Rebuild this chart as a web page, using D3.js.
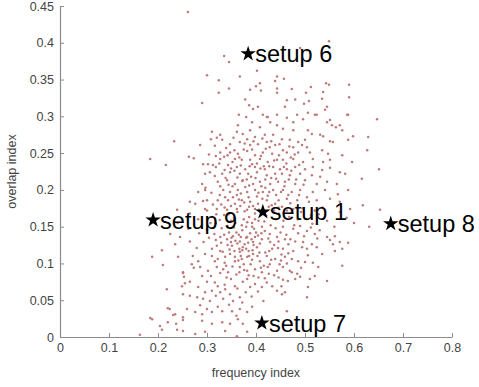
<!DOCTYPE html>
<html><head><meta charset="utf-8">
<script src="https://cdn.jsdelivr.net/npm/d3@7"></script>
<style>
html,body{margin:0;padding:0;background:#fff;}
svg{display:block;font-family:"Liberation Sans",Arial,sans-serif;}
</style></head>
<body><svg id="chart" width="479" height="387"></svg>
<script>
// ---- data (frequency index, overlap index) ----
const scatterPoints = [
[.261,.442],[.335,.382],[.345,.374],[.300,.356],[.324,.349],[.367,.354],[.402,.362],[.324,.332],[.345,.338],[.290,.318],
[.378,.323],[.388,.336],[.400,.341],[.408,.345],[.410,.335],[.443,.354],[.439,.348],[.443,.338],[.443,.332],[.386,.315],
[.394,.310],[.404,.313],
[.549,.402],[.490,.393],[.504,.390],[.457,.351],[.473,.337],[.512,.340],[.502,.332],[.543,.345],[.549,.343],[.537,.333],
[.590,.343],[.590,.326],[.463,.322],[.480,.323],[.498,.317],[.508,.321],[.535,.324],[.459,.313],[.545,.313],[.541,.309],
[.422,.299],[.443,.302],[.463,.298],[.484,.302],[.506,.305],[.524,.302],[.551,.295],[.571,.288],[.586,.302],
[.365,.302],[.380,.299],[.414,.302],[.424,.299],[.363,.288],[.392,.292],[.408,.285],[.429,.292],[.443,.288],[.310,.279],
[.327,.275],[.320,.271],[.308,.269],[.361,.279],[.373,.276],[.388,.281],[.382,.269],[.398,.272],[.418,.275],[.435,.275],
[.233,.266],[.286,.261],[.347,.262],[.367,.265],[.388,.261],[.404,.262],[.422,.265],[.439,.261],[.327,.251],[.347,.251],
[.363,.249],[.382,.253],[.398,.247],[.414,.251],[.433,.249],[.184,.242],[.263,.245],[.273,.243],[.327,.242],[.357,.242],
[.371,.241],[.388,.241],[.408,.242],[.424,.238],[.443,.241],[.216,.234],[.292,.235],[.302,.235],[.312,.234],[.343,.234],
[.361,.231],[.378,.228],[.398,.231],[.418,.228],[.435,.231],[.296,.222],[.306,.224],[.331,.222],[.347,.224],[.367,.222],
[.384,.222],[.402,.224],[.422,.220],[.439,.222],[.290,.208],[.322,.211],[.341,.213],[.357,.208],[.373,.213],[.394,.208],
[.408,.211],[.429,.208],[.445,.211],[.282,.197],[.296,.200],[.333,.200],[.347,.197],[.363,.200],[.382,.197],[.398,.200],
[.414,.197],[.435,.200],[.265,.184],[.276,.181],[.300,.186],[.322,.186],[.343,.186],[.357,.181],[.371,.186],[.388,.184],
[.404,.181],[.422,.186],[.439,.181],[.239,.173],[.296,.174],[.320,.174],[.341,.173],[.361,.174],[.382,.173],[.398,.174],
[.520,.302],[.588,.302],[.647,.296],[.476,.292],[.496,.296],[.545,.292],[.555,.288],[.576,.281],[.563,.285],[.455,.283],
[.476,.281],[.506,.281],[.514,.276],[.531,.275],[.537,.273],[.598,.273],[.629,.272],[.453,.269],[.469,.268],[.486,.265],
[.500,.268],[.494,.261],[.504,.258],[.476,.258],[.551,.266],[.557,.265],[.588,.268],[.463,.251],[.486,.251],[.510,.251],
[.535,.254],[.547,.249],[.576,.247],[.627,.254],[.455,.241],[.476,.242],[.496,.238],[.516,.242],[.537,.238],[.551,.241],
[.596,.238],[.463,.228],[.480,.231],[.500,.228],[.516,.231],[.535,.227],[.551,.230],[.571,.224],[.651,.228],[.453,.222],
[.469,.220],[.490,.222],[.514,.220],[.531,.218],[.582,.222],[.459,.211],[.480,.208],[.500,.213],[.524,.208],[.545,.211],
[.565,.208],[.616,.215],[.455,.200],[.473,.197],[.490,.200],[.516,.197],[.541,.200],[.567,.194],[.588,.200],[.463,.188],
[.484,.186],[.504,.190],[.524,.186],[.551,.188],[.571,.184],[.618,.179],[.453,.177],[.476,.174],[.592,.174],[.653,.173],
[.571,.170],
[.188,.109],[.208,.118],[.210,.098],[.241,.109],[.235,.126],[.245,.136],[.265,.130],[.271,.110],[.251,.088],[.253,.082],
[.269,.099],[.282,.103],[.286,.095],[.290,.083],[.302,.090],[.296,.113],[.310,.110],[.316,.103],[.327,.117],[.337,.109],
[.347,.113],[.357,.103],[.367,.116],[.382,.109],[.394,.113],[.408,.103],[.422,.110],[.439,.106],[.327,.136],[.341,.133],
[.353,.137],[.367,.130],[.382,.136],[.394,.129],[.412,.133],[.429,.129],[.443,.136],[.320,.124],[.351,.124],[.373,.122],
[.402,.122],[.433,.120],[.320,.095],[.333,.092],[.343,.088],[.367,.095],[.382,.090],[.398,.092],[.412,.088],[.424,.095],
[.443,.090],[.218,.065],[.249,.069],[.251,.058],[.265,.075],[.282,.068],[.300,.075],[.310,.063],[.322,.069],[.327,.061],
[.337,.065],[.347,.058],[.357,.069],[.373,.075],[.382,.079],[.388,.068],[.398,.072],[.412,.068],[.433,.069],[.443,.063],
[.265,.056],[.280,.054],[.292,.052],[.306,.049],[.333,.052],[.353,.049],[.367,.054],[.224,.038],[.235,.031],[.259,.038],
[.251,.027],[.276,.034],[.290,.031],[.300,.038],[.310,.034],[.331,.035],[.351,.035],[.367,.038],[.382,.034],[.188,.024],
[.204,.015],[.220,.020],[.237,.018],[.290,.022],[.310,.018],[.331,.020],[.347,.018],[.363,.024],[.373,.018],[.251,.008],
[.276,.004],[.296,.007],[.337,.008],[.361,.001],[.382,.007],
[.163,.003],[.184,.026],[.208,.010],[.220,.039],[.231,.030],[.239,.010],[.251,.023],[.251,.087],[.255,.073],
[.455,.150],[.476,.147],[.490,.151],[.504,.144],[.520,.140],[.545,.136],[.551,.132],[.561,.137],[.571,.129],[.588,.128],
[.631,.150],[.459,.133],[.480,.130],[.496,.129],[.514,.126],[.557,.126],[.455,.120],[.476,.117],[.494,.122],[.504,.120],
[.524,.122],[.535,.113],[.561,.117],[.576,.120],[.459,.109],[.473,.106],[.486,.103],[.500,.102],[.516,.101],[.527,.095],
[.576,.097],[.455,.095],[.469,.090],[.484,.086],[.490,.082],[.510,.079],[.545,.076],[.465,.076],[.480,.079],[.506,.068],
[.459,.061],[.453,.058],[.504,.054],[.463,.035],
[.265,.168],[.282,.160],[.300,.172],[.318,.155],[.335,.166],[.349,.158],[.362,.170],[.371,.152],[.386,.163],[.392,.150],
[.405,.158],[.421,.165],[.430,.152],[.447,.168],[.456,.158],[.468,.163],[.478,.152],[.492,.170],[.503,.160],[.515,.154],
[.528,.167],[.545,.158],[.560,.150],[.585,.162],[.240,.155],[.310,.163],[.342,.151],[.377,.171],[.412,.150],[.437,.172],
[.485,.160],[.520,.172],[.600,.155],
[.300,.146],[.315,.140],[.330,.148],[.345,.142],[.355,.149],[.365,.139],[.372,.145],[.380,.150],[.388,.141],[.396,.147],
[.404,.138],[.418,.144],[.428,.140],[.440,.148],[.450,.142],[.462,.139],[.486,.141],[.498,.137],[.512,.149],[.530,.145],
[.284,.141],[.262,.147],[.225,.140],
[.335,.245],[.352,.238],[.375,.255],[.392,.235],[.410,.246],[.428,.258],[.447,.247],[.462,.236],[.318,.231],[.338,.216],
[.356,.226],[.372,.212],[.390,.218],[.416,.232],[.431,.216],[.449,.228],[.467,.214],[.326,.193],[.352,.205],[.369,.195],
[.386,.206],[.402,.191],[.419,.203],[.441,.193],[.458,.205],[.312,.180],[.336,.176],[.353,.190],[.376,.183],[.394,.178],
[.413,.188],[.432,.179],[.470,.182],[.488,.193],[.329,.128],[.346,.119],[.358,.131],[.377,.126],[.385,.117],[.391,.133],
[.408,.127],[.419,.115],[.437,.125],[.452,.112],[.466,.126],[.336,.101],[.352,.096],[.371,.106],[.389,.099],[.403,.110],
[.416,.097],[.431,.105],[.448,.099],[.463,.100],[.340,.081],[.360,.085],[.376,.091],[.395,.083],[.418,.080],[.437,.084],
[.455,.078],[.473,.088],[.366,.120],[.380,.135],[.395,.125],[.360,.142],[.372,.118],[.386,.110],[.400,.142],[.364,.104],
[.350,.135],[.392,.155],[.375,.160],[.355,.162],[.398,.168],
[.331,.268],[.354,.271],[.377,.263],[.395,.266],[.413,.270],[.431,.266],[.448,.262],[.468,.259],[.339,.257],[.356,.254],
[.392,.255],[.420,.256],[.455,.254],[.479,.248],[.318,.246],[.342,.247],[.366,.244],[.402,.236],[.437,.240],[.471,.244],
[.325,.236],[.349,.229],[.369,.233],[.387,.232],[.409,.229],[.427,.232],[.457,.231],[.488,.234],[.316,.219],[.336,.227],
[.362,.217],[.381,.214],[.399,.216],[.419,.214],[.441,.215],[.472,.226],[.327,.205],[.344,.207],[.361,.193],[.378,.204],
[.411,.205],[.427,.197],[.451,.197],[.482,.214],[.309,.196],[.337,.190],[.365,.187],[.385,.190],[.405,.196],[.424,.192],
[.446,.186],[.466,.193],[.319,.167],[.329,.180],[.349,.178],[.368,.178],[.386,.177],[.406,.173],[.426,.177],[.446,.176],
[.463,.172],[.307,.155],[.326,.159],[.344,.167],[.358,.155],[.382,.156],[.398,.160],[.417,.157],[.441,.160],[.472,.169],
[.304,.135],[.318,.132],[.335,.139],[.349,.129],[.362,.127],[.369,.136],[.384,.128],[.398,.136],[.411,.141],[.425,.134],
[.446,.130],[.470,.133],[.310,.120],[.332,.116],[.342,.125],[.356,.117],[.369,.110],[.380,.120],[.393,.118],[.407,.115],
[.427,.117],[.445,.121],[.466,.114],[.322,.106],[.339,.097],[.357,.109],[.375,.099],[.392,.105],[.410,.094],[.428,.099],
[.451,.104],[.308,.083],[.327,.087],[.349,.079],[.366,.088],[.385,.084],[.405,.081],[.426,.086],[.446,.081],[.316,.074],
[.336,.071],[.362,.066],[.379,.061],[.404,.062],[.422,.074],[.452,.069],[.296,.061],[.318,.056],[.345,.044],[.372,.047],
[.391,.055],[.415,.049],[.286,.043],[.322,.041],[.360,.029],[.392,.041],[.273,.094],[.279,.121],[.293,.129],[.288,.150],
[.292,.185],[.297,.203],[.304,.248],[.316,.260],[.497,.207],[.508,.184],[.495,.175],[.512,.166],[.536,.176],[.525,.134],
[.506,.111],[.492,.094],[.520,.083]
];

const setupNames   = ["setup 6", "setup 9", "setup 1", "setup 8", "setup 7"];
const setupFreq    = [0.384, 0.190, 0.414, 0.675, 0.412];
const setupOverlap = [0.385, 0.159, 0.170, 0.154, 0.019];

const xTicks = [0, 0.1, 0.2, 0.3, 0.4, 0.5, 0.6, 0.7, 0.8];
const xTickLabels = ["0", "0.1", "0.2", "0.3", "0.4", "0.5", "0.6", "0.7", "0.8"];
const yTicks = [0, 0.05, 0.1, 0.15, 0.2, 0.25, 0.3, 0.35, 0.4, 0.45];
const yTickLabels = ["0", "0.05", "0.1", "0.15", "0.2", "0.25", "0.3", "0.35", "0.4", "0.45"];

const xLabel = "frequency index";
const yLabel = "overlap index";

// ---- layout ----
const svg = d3.select("#chart");
const mLeft = 60, mRight = 452, mTop = 6, mBottom = 337;

const x = d3.scaleLinear().domain([0, 0.8]).range([mLeft, mRight]);
const y = d3.scaleLinear().domain([0, 0.45]).range([mBottom, mTop]);

const axisColor = "#8c8c8c";
const textColor = "#444";

// axes
const xAxis = d3.axisBottom(x).tickValues(xTicks)
  .tickFormat((d, i) => xTickLabels[i]).tickSizeInner(-4).tickSizeOuter(0).tickPadding(6);
const yAxis = d3.axisLeft(y).tickValues(yTicks)
  .tickFormat((d, i) => yTickLabels[i]).tickSizeInner(-4).tickSizeOuter(0).tickPadding(6);

const gx = svg.append("g").attr("transform", `translate(0,${mBottom})`).call(xAxis);
const gy = svg.append("g").attr("transform", `translate(${mLeft},0)`).call(yAxis);
[gx, gy].forEach(g => {
  g.select(".domain").attr("stroke", axisColor).attr("stroke-width", 1.2);
  g.selectAll(".tick line").attr("stroke", axisColor);
  g.selectAll(".tick text").attr("fill", textColor)
    .style("font-size", "12.5px").style("font-family", "'Liberation Sans', Arial, sans-serif");
});

// axis titles
svg.append("text").attr("x", (mLeft + mRight) / 2).attr("y", 377)
  .attr("text-anchor", "middle").attr("fill", textColor)
  .style("font-size", "12.5px").text(xLabel);
svg.append("text")
  .attr("transform", `translate(16,${(mTop + mBottom) / 2}) rotate(-90)`)
  .attr("text-anchor", "middle").attr("fill", textColor)
  .style("font-size", "12.5px").text(yLabel);

// scatter
svg.append("g").selectAll("circle").data(scatterPoints).join("circle")
  .attr("cx", d => x(d[0])).attr("cy", d => y(d[1]))
  .attr("r", 1.25).attr("fill", "#bd7a7a");

// setups
const star = d3.symbol().type(d3.symbolStar).size(74);
const sg = svg.append("g").selectAll("g").data(setupNames).join("g")
  .attr("transform", (d, i) => `translate(${x(setupFreq[i])},${y(setupOverlap[i])})`);
sg.append("path").attr("d", star).attr("fill", "#000");
sg.append("text").attr("x", 7).attr("y", 8.5)
  .attr("fill", "#000").style("font-size", "23.5px")
  .style("font-family", "'Liberation Sans', Arial, sans-serif")
  .text(d => d);
</script>
</body></html>
